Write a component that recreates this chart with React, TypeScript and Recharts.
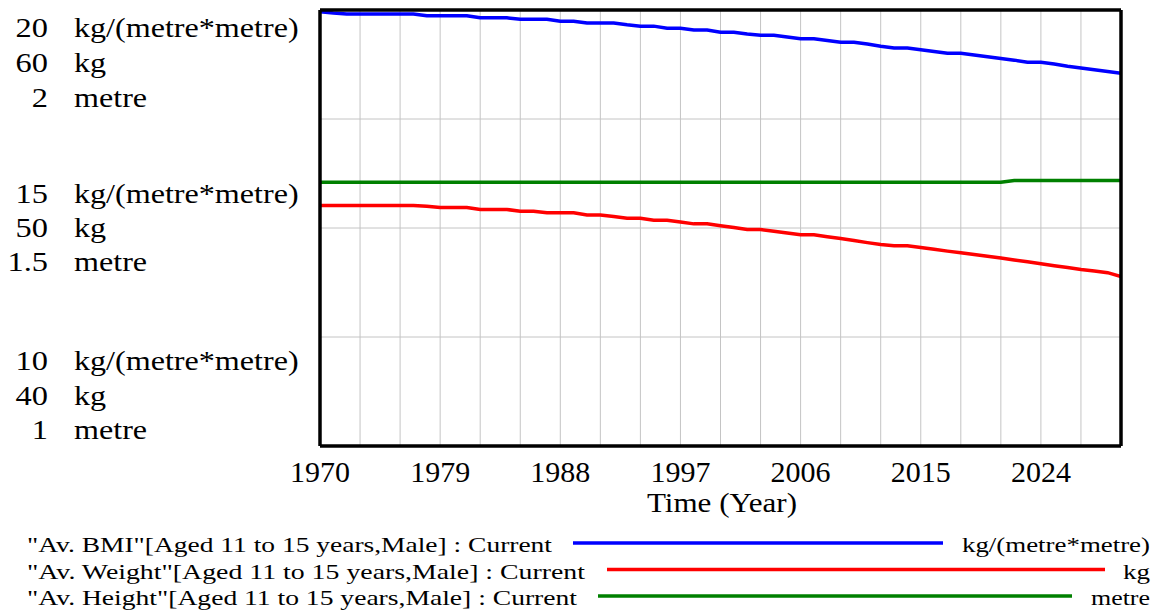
import React from 'react';
import { LineChart, Line, XAxis, YAxis, CartesianGrid } from 'recharts';

const YEARS = [
  1970, 1971, 1972, 1973, 1974, 1975, 1976, 1977, 1978, 1979,
  1980, 1981, 1982, 1983, 1984, 1985, 1986, 1987, 1988, 1989,
  1990, 1991, 1992, 1993, 1994, 1995, 1996, 1997, 1998, 1999,
  2000, 2001, 2002, 2003, 2004, 2005, 2006, 2007, 2008, 2009,
  2010, 2011, 2012, 2013, 2014, 2015, 2016, 2017, 2018, 2019,
  2020, 2021, 2022, 2023, 2024, 2025, 2026, 2027, 2028, 2029,
  2030,
];

const BMI = [
  19.96, 19.93, 19.91, 19.91, 19.91, 19.91, 19.91, 19.91, 19.87, 19.87,
  19.87, 19.87, 19.82, 19.82, 19.82, 19.79, 19.79, 19.79, 19.74, 19.74,
  19.7, 19.7, 19.7, 19.66, 19.63, 19.63, 19.58, 19.58, 19.54, 19.54,
  19.49, 19.49, 19.45, 19.42, 19.42, 19.38, 19.34, 19.34, 19.3, 19.26,
  19.26, 19.22, 19.17, 19.13, 19.13, 19.09, 19.05, 19.01, 19.01, 18.97,
  18.93, 18.89, 18.85, 18.8, 18.8, 18.76, 18.71, 18.67, 18.63, 18.59,
  18.55,
];

const WEIGHT = [
  51.03, 51.03, 51.03, 51.03, 51.03, 51.03, 51.03, 51.03, 51.0, 50.94,
  50.94, 50.94, 50.85, 50.85, 50.85, 50.77, 50.77, 50.7, 50.7, 50.7,
  50.6, 50.6, 50.53, 50.45, 50.45, 50.36, 50.36, 50.28, 50.19, 50.19,
  50.1, 50.02, 49.93, 49.93, 49.85, 49.77, 49.69, 49.69, 49.6, 49.52,
  49.43, 49.33, 49.24, 49.19, 49.19, 49.11, 49.03, 48.94, 48.86, 48.78,
  48.7, 48.62, 48.53, 48.45, 48.36, 48.27, 48.19, 48.1, 48.03, 47.95,
  47.77,
];

const HEIGHT = [
  1.605, 1.605, 1.605, 1.605, 1.605, 1.605, 1.605, 1.605, 1.605, 1.605,
  1.605, 1.605, 1.605, 1.605, 1.605, 1.605, 1.605, 1.605, 1.605, 1.605,
  1.605, 1.605, 1.605, 1.605, 1.605, 1.605, 1.605, 1.605, 1.605, 1.605,
  1.605, 1.605, 1.605, 1.605, 1.605, 1.605, 1.605, 1.605, 1.605, 1.605,
  1.605, 1.605, 1.605, 1.605, 1.605, 1.605, 1.605, 1.605, 1.605, 1.605,
  1.605, 1.605, 1.609, 1.609, 1.609, 1.609, 1.609, 1.609, 1.609, 1.609,
  1.609,
];

const X_GRID_TICKS = [1970, 1973, 1976, 1979, 1982, 1985, 1988, 1991, 1994, 1997, 2000, 2003, 2006, 2009, 2012, 2015, 2018, 2021, 2024, 2027, 2030];
const X_LABEL_TICKS = [1970, 1979, 1988, 1997, 2006, 2015, 2024];

const BMI_TICKS = [10, 12.5, 15, 17.5, 20];
const BMI_LABELS = ['10', '15', '20'];
const WEIGHT_LABELS = ['40', '50', '60'];
const HEIGHT_LABELS = ['1', '1.5', '2'];
const UNITS = ['kg/(metre*metre)', 'kg', 'metre'];

const LEGEND_NAMES = [
  '"Av. BMI"[Aged 11 to 15 years,Male] : Current',
  '"Av. Weight"[Aged 11 to 15 years,Male] : Current',
  '"Av. Height"[Aged 11 to 15 years,Male] : Current',
];
const COLORS = ['#0000ff', '#ff0000', '#008000'];

const data = YEARS.map((year, i) => ({
  year,
  bmi: BMI[i],
  weight: WEIGHT[i],
  height: HEIGHT[i],
}));

const FONT = '"Liberation Serif", "Times New Roman", serif';

const ST = ({ x, y, anchor, size, sx, children }: any) => (
  <text
    transform={`translate(${x},${y}) scale(${sx},1)`}
    textAnchor={anchor}
    fontFamily={FONT}
    fontSize={size}
    fill="#000"
  >
    {children}
  </text>
);

const YTick = (props: any) => {
  const { y, payload } = props;
  const v = payload.value;
  let idx = -1;
  let offs: number[] = [];
  if (v === 10) { idx = 0; offs = [-76, -41, -7]; }
  else if (v === 15) { idx = 1; offs = [-25, 9, 43]; }
  else if (v === 20) { idx = 2; offs = [27, 62, 97]; }
  if (idx < 0) return <g />;
  const nums = [BMI_LABELS[idx], WEIGHT_LABELS[idx], HEIGHT_LABELS[idx]];
  return (
    <g>
      {nums.map((n, k) => (
        <g key={k}>
          <ST x={48} y={y + offs[k]} anchor="end" size={27} sx={1.2}>{n}</ST>
          <ST x={74} y={y + offs[k]} anchor="start" size={27} sx={1.19}>{UNITS[k]}</ST>
        </g>
      ))}
    </g>
  );
};

const XTick = (props: any) => {
  const { x, payload } = props;
  if (!X_LABEL_TICKS.includes(payload.value)) return <g />;
  return (
    <text x={x} y={482} textAnchor="middle" fontFamily={FONT} fontSize={30} fill="#000">
      {payload.value}
    </text>
  );
};

const LEGEND_TEXT_W = [525, 558, 550];
const LEGEND_LINE = [[573, 943], [607, 1105], [598, 1072]];
const UNIT_W = [188, 27, 59];

export default function App() {
  return (
    <div style={{ position: 'absolute', left: 0, top: 0, width: 1160, height: 615, background: '#fff' }}>
      <LineChart
        width={1160}
        height={615}
        data={data}
        margin={{ top: 9, right: 38, bottom: 168, left: 319 }}
      >
        <CartesianGrid stroke="#c4c4c4" strokeWidth={1} yAxisId="bmi" />
        <XAxis
          dataKey="year"
          type="number"
          domain={[1970, 2030]}
          ticks={X_GRID_TICKS}
          interval={0}
          tick={<XTick />}
          tickLine={false}
          axisLine={{ stroke: '#000', strokeWidth: 3.5 }}
          height={1}
          allowDataOverflow
        />
        <XAxis
          xAxisId="top"
          dataKey="year"
          type="number"
          domain={[1970, 2030]}
          orientation="top"
          tick={false}
          tickLine={false}
          axisLine={{ stroke: '#000', strokeWidth: 3.5 }}
          height={1}
        />
        <YAxis
          yAxisId="bmi"
          domain={[10, 20]}
          ticks={BMI_TICKS}
          interval={0}
          tick={<YTick />}
          tickLine={false}
          axisLine={{ stroke: '#000', strokeWidth: 3.5 }}
          width={1}
          allowDataOverflow
        />
        <YAxis yAxisId="w" domain={[40, 60]} hide allowDataOverflow />
        <YAxis
          yAxisId="h"
          orientation="right"
          domain={[1, 2]}
          tick={false}
          tickLine={false}
          axisLine={{ stroke: '#000', strokeWidth: 3.5 }}
          width={1}
          allowDataOverflow
        />
        <Line yAxisId="bmi" dataKey="bmi" stroke={COLORS[0]} strokeWidth={3.5} dot={false} isAnimationActive={false} type="linear" />
        <Line yAxisId="w" dataKey="weight" stroke={COLORS[1]} strokeWidth={3.5} dot={false} isAnimationActive={false} type="linear" />
        <Line yAxisId="h" dataKey="height" stroke={COLORS[2]} strokeWidth={3.5} dot={false} isAnimationActive={false} type="linear" />
        <g>
          <ST x={722} y={512} anchor="middle" size={27} sx={1.15}>Time (Year)</ST>
          {LEGEND_NAMES.map((name, i) => {
            const base = 552 + i * 26.5;
            return (
              <g key={i}>
                <text
                  x={27}
                  y={base}
                  fontFamily={FONT}
                  fontSize={22}
                  textLength={LEGEND_TEXT_W[i]}
                  lengthAdjust="spacingAndGlyphs"
                  fill="#000"
                >
                  {name}
                </text>
                <line
                  x1={LEGEND_LINE[i][0]}
                  x2={LEGEND_LINE[i][1]}
                  y1={base - 9}
                  y2={base - 9}
                  stroke={COLORS[i]}
                  strokeWidth={3.5}
                />
                <text
                  x={1150 - UNIT_W[i]}
                  y={base}
                  fontFamily={FONT}
                  fontSize={22}
                  textLength={UNIT_W[i]}
                  lengthAdjust="spacingAndGlyphs"
                  fill="#000"
                >
                  {UNITS[i]}
                </text>
              </g>
            );
          })}
        </g>
      </LineChart>
    </div>
  );
}
